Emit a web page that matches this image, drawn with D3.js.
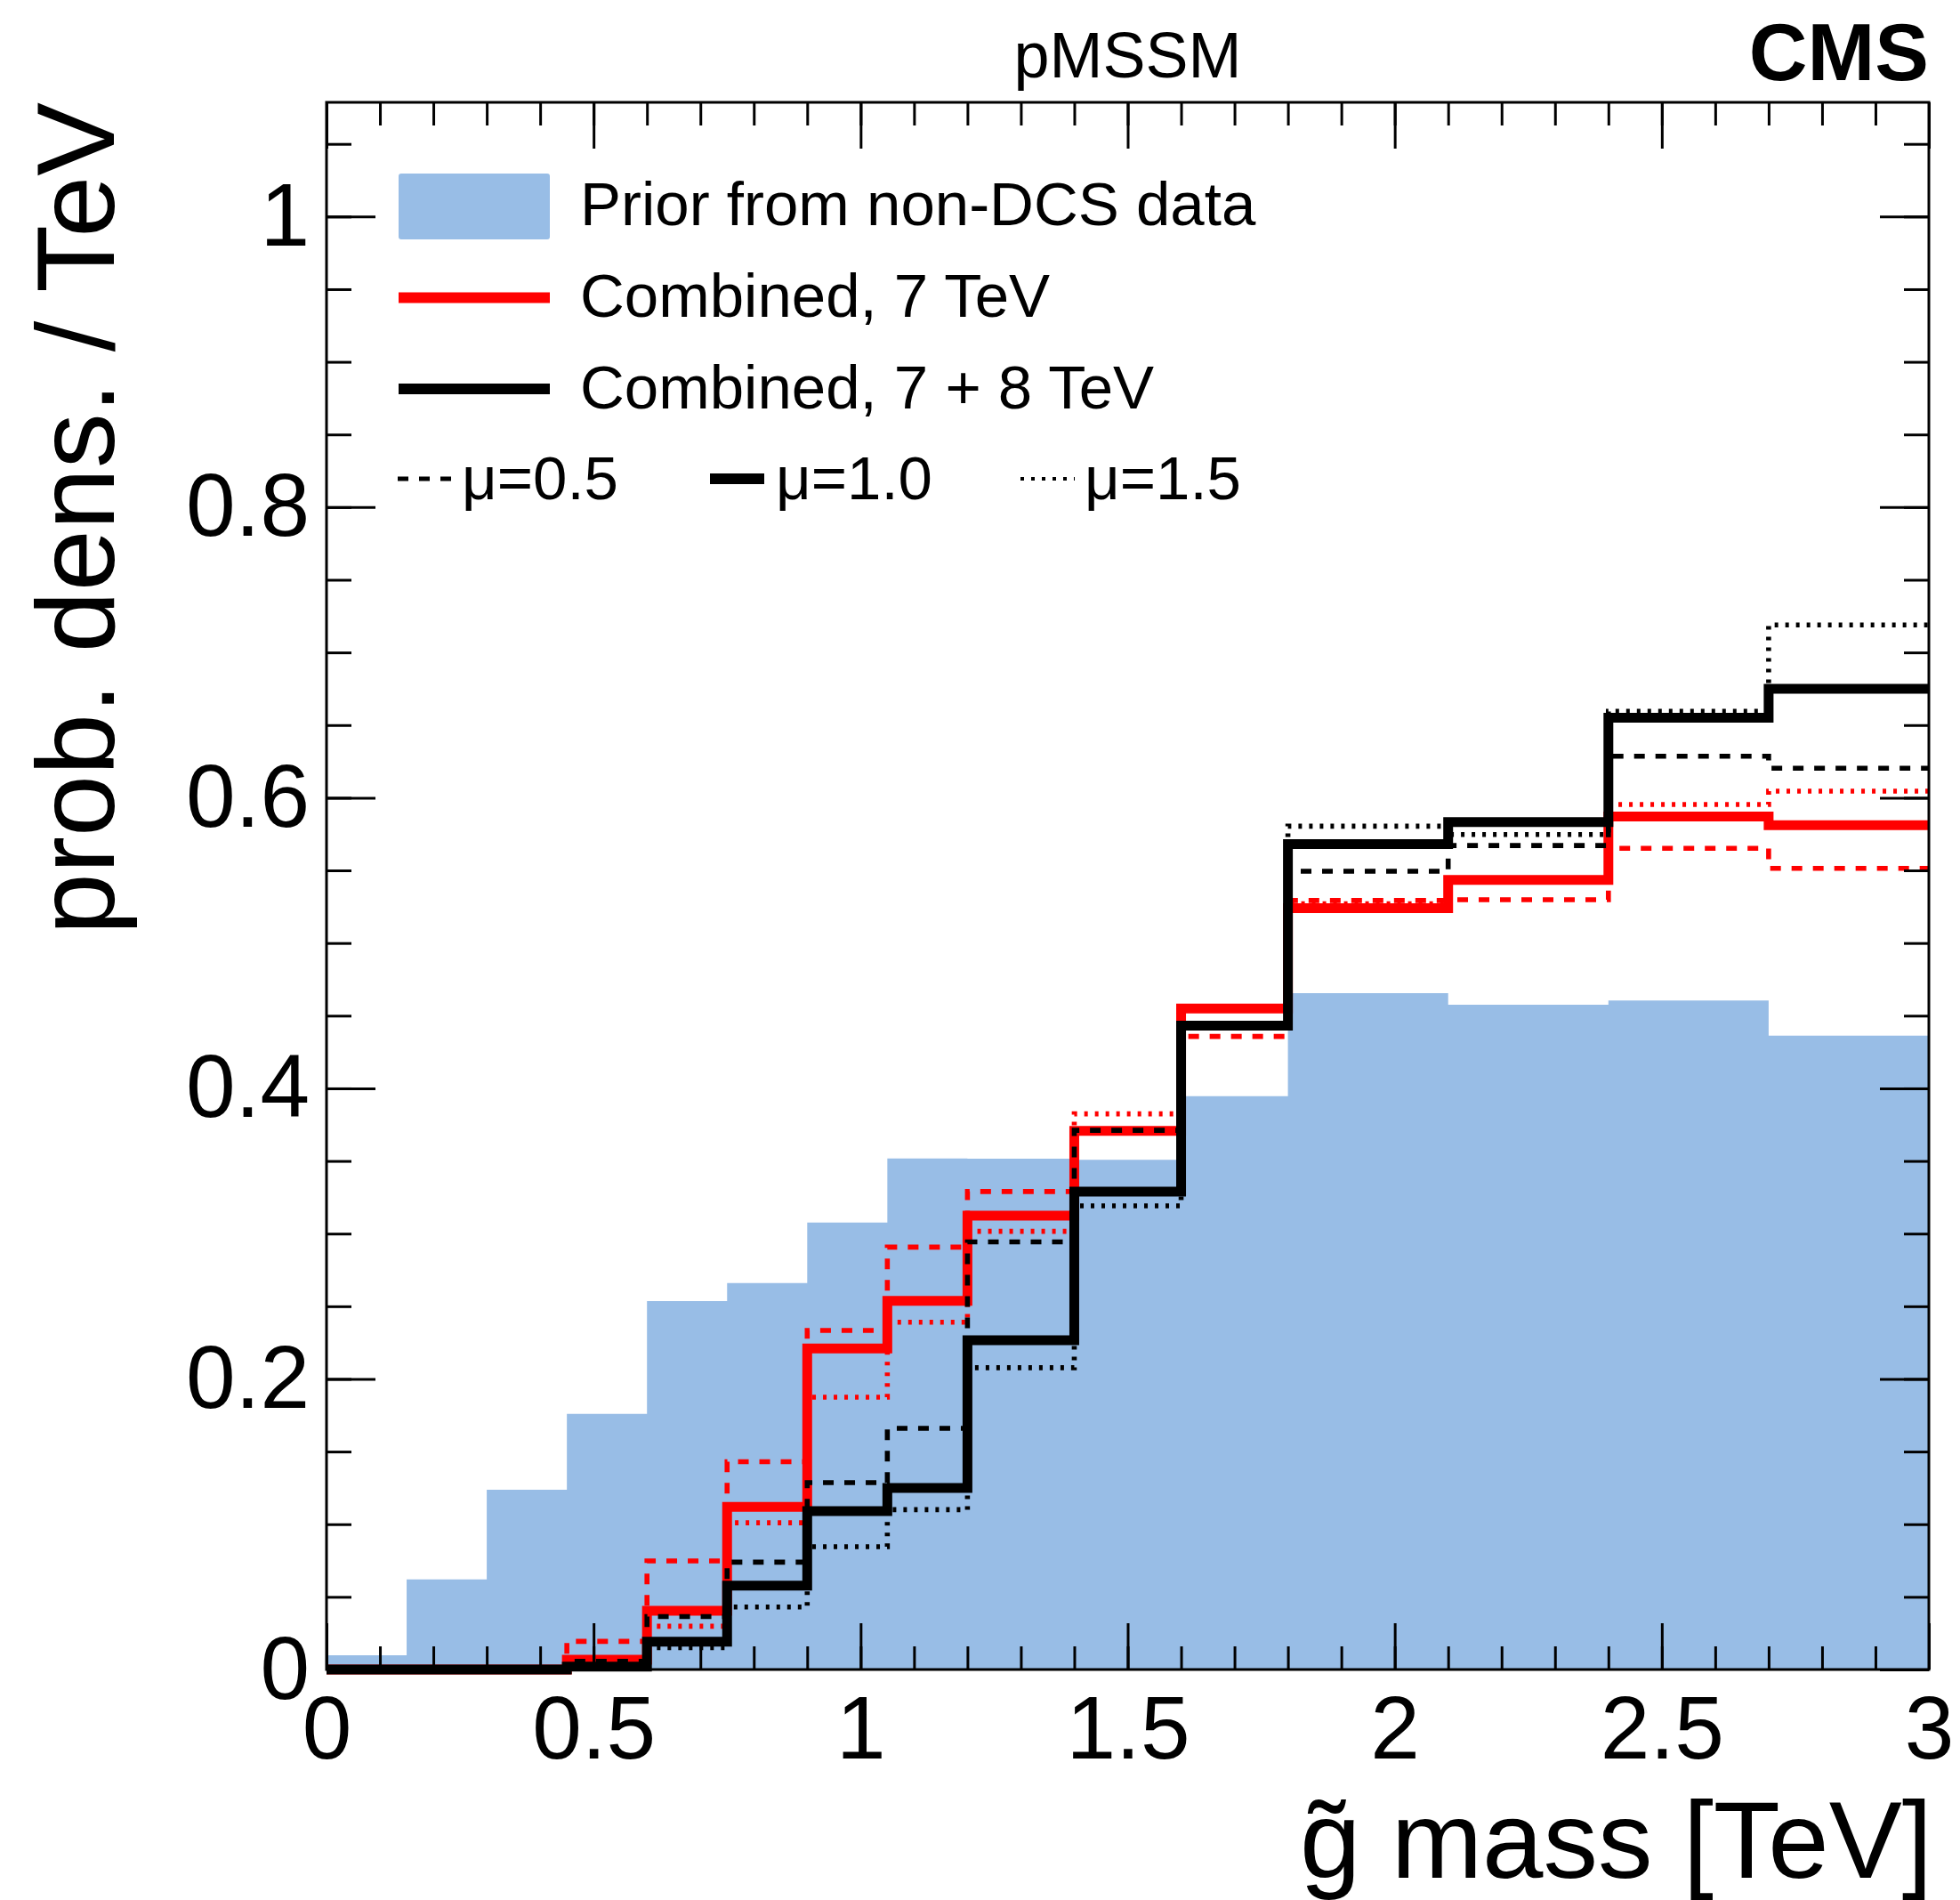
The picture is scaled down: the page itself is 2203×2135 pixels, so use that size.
<!DOCTYPE html>
<html>
<head>
<meta charset="utf-8">
<script src="https://cdn.jsdelivr.net/npm/d3@7"></script>
<style>
body { margin: 0; background: #fff; }
text { font-family: "Liberation Sans", Arial, Helvetica, sans-serif; }
</style>
</head>
<body>
<div id="chart"></div>
<script>
// bin edges of the gluino mass histogram [TeV]
const edges = [0, 0.15, 0.3, 0.45, 0.6, 0.75, 0.9, 1.05, 1.2, 1.4, 1.6, 1.8, 2.1, 2.4, 2.7, 3.0];

// prob. density per bin
const prior       = [0.0098, 0.062, 0.1237, 0.176, 0.2536, 0.266, 0.3077, 0.3517, 0.3515, 0.3508, 0.3946, 0.4655, 0.4575, 0.4604, 0.4363];
const comb7_mu10  = [0, 0, 0, 0.0067, 0.0404, 0.112, 0.221, 0.2538, 0.3124, 0.3707, 0.4549, 0.524, 0.5435, 0.587, 0.5811];
const comb7_mu05  = [0, 0, 0, 0.0194, 0.0747, 0.143, 0.2334, 0.2907, 0.329, 0.371, 0.4357, 0.5293, 0.5298, 0.5652, 0.5514];
const comb7_mu15  = [0, 0, 0, 0.003, 0.0298, 0.101, 0.1874, 0.239, 0.3016, 0.3824, 0.456, 0.527, 0.544, 0.5953, 0.6045];
const comb78_mu10 = [0, 0, 0, 0.002, 0.0192, 0.0578, 0.109, 0.125, 0.2266, 0.3289, 0.4431, 0.5681, 0.5833, 0.6551, 0.6749];
const comb78_mu05 = [0, 0, 0, 0.0056, 0.0364, 0.0739, 0.1286, 0.166, 0.2943, 0.3711, 0.443, 0.5494, 0.5671, 0.6286, 0.6203];
const comb78_mu15 = [0, 0, 0, 0.001, 0.0151, 0.043, 0.0845, 0.110, 0.2077, 0.3191, 0.444, 0.5804, 0.5747, 0.6594, 0.7189];

const xTicks = [0, 0.5, 1, 1.5, 2, 2.5, 3];
const yTicks = [0, 0.2, 0.4, 0.6, 0.8, 1];
const legendLabels = ['Prior from non-DCS data', 'Combined, 7 TeV', 'Combined, 7 + 8 TeV'];
const muLabels = ['\u03bc=0.5', '\u03bc=1.0', '\u03bc=1.5'];

const width = 2203, height = 2135;
const margin = {top: 115, right: 35, bottom: 259, left: 367};
const blue = '#98bde6';

const svg = d3.select('#chart').append('svg')
    .attr('width', width)
    .attr('height', height);

const x = d3.scaleLinear().domain([0, 3]).range([margin.left, width - margin.right]);
const y = d3.scaleLinear().domain([0, 1.0786]).range([height - margin.bottom, margin.top]);

function steps(vals) {
    const pts = [];
    vals.forEach((v, i) => {
        pts.push([edges[i], v]);
        pts.push([edges[i + 1], v]);
    });
    return pts;
}

// prior as filled histogram
svg.append('path')
    .datum(steps(prior))
    .attr('d', d3.area().x(d => x(d[0])).y0(y(0)).y1(d => y(d[1])))
    .style('fill', blue);

const line = d3.line().x(d => x(d[0])).y(d => y(d[1]));
const series = [
    {vals: comb7_mu10, color: '#ff0000', w: 11, dash: null},
    {vals: comb7_mu05, color: '#ff0000', w: 5.6, dash: '12,12'},
    {vals: comb7_mu15, color: '#ff0000', w: 5.6, dash: '4,8'},
    {vals: comb78_mu10, color: '#000', w: 11, dash: null},
    {vals: comb78_mu05, color: '#000', w: 5.6, dash: '12,12'},
    {vals: comb78_mu15, color: '#000', w: 5.6, dash: '4,8'}
];
series.forEach(s => {
    svg.append('path')
        .datum(steps(s.vals))
        .attr('d', line)
        .style('fill', 'none')
        .style('stroke', s.color)
        .style('stroke-width', s.w)
        .style('stroke-linejoin', 'miter')
        .style('stroke-dasharray', s.dash);
});

// axes: ROOT style ticks inside on all sides
const fmt = d3.format('~g');
const xMinor = d3.range(0, 3.0001, 0.1);
const yMinor = d3.range(0, 1.0786, 0.05);
const bottom = height - margin.bottom, right = width - margin.right;

function styleAxis(g) {
    g.select('.domain').remove();
    g.selectAll('line').style('stroke', '#000').style('stroke-width', 3);
    g.selectAll('text').style('font-size', '100px').style('fill', '#000');
}

svg.append('g').attr('transform', `translate(0,${bottom})`)
    .call(d3.axisBottom(x).tickValues(xMinor).tickSize(-26).tickFormat('')).call(styleAxis);
svg.append('g').attr('transform', `translate(0,${bottom})`)
    .call(d3.axisBottom(x).tickValues(xTicks).tickSize(-52).tickPadding(29).tickFormat(fmt)).call(styleAxis);
svg.append('g').attr('transform', `translate(0,${margin.top})`)
    .call(d3.axisTop(x).tickValues(xMinor).tickSize(-26).tickFormat('')).call(styleAxis);
svg.append('g').attr('transform', `translate(0,${margin.top})`)
    .call(d3.axisTop(x).tickValues(xTicks).tickSize(-52).tickFormat('')).call(styleAxis);

svg.append('g').attr('transform', `translate(${margin.left},0)`)
    .call(d3.axisLeft(y).tickValues(yMinor).tickSize(-28).tickFormat('')).call(styleAxis);
svg.append('g').attr('transform', `translate(${margin.left},0)`)
    .call(d3.axisLeft(y).tickValues(yTicks).tickSize(-55).tickPadding(19).tickFormat(fmt)).call(styleAxis);
svg.append('g').attr('transform', `translate(${right},0)`)
    .call(d3.axisRight(y).tickValues(yMinor).tickSize(-28).tickFormat('')).call(styleAxis);
svg.append('g').attr('transform', `translate(${right},0)`)
    .call(d3.axisRight(y).tickValues(yTicks).tickSize(-55).tickFormat('')).call(styleAxis);

svg.append('rect')
    .attr('x', margin.left).attr('y', margin.top)
    .attr('width', right - margin.left).attr('height', bottom - margin.top)
    .style('fill', 'none').style('stroke', '#000').style('stroke-width', 3);

// titles
svg.append('text')
    .attr('x', right + 4).attr('y', 2110)
    .style('text-anchor', 'end').style('font-size', '123px')
    .text('g\u0303 mass [TeV]');

svg.append('text')
    .attr('transform', `translate(128,${margin.top}) rotate(-90)`)
    .style('text-anchor', 'end').style('font-size', '124px')
    .text('prob. dens. / TeV');

svg.append('text')
    .attr('x', (margin.left + right) / 2).attr('y', 87)
    .style('text-anchor', 'middle').style('font-size', '72px')
    .text('pMSSM');

svg.append('text')
    .attr('x', right).attr('y', 90)
    .style('text-anchor', 'end').style('font-size', '91px').style('font-weight', 'bold')
    .text('CMS');

// legend
const legend = svg.append('g');
const rowY = [232, 334.5, 437];
legend.append('rect')
    .attr('x', 448).attr('y', 195).attr('width', 170).attr('height', 74)
    .attr('rx', 3)
    .style('fill', blue);
legend.append('line')
    .attr('x1', 448).attr('x2', 618).attr('y1', rowY[1]).attr('y2', rowY[1])
    .style('stroke', '#ff0000').style('stroke-width', 12);
legend.append('line')
    .attr('x1', 448).attr('x2', 618).attr('y1', rowY[2]).attr('y2', rowY[2])
    .style('stroke', '#000').style('stroke-width', 12);
legend.selectAll('.lab').data(legendLabels).enter().append('text')
    .attr('class', 'lab')
    .attr('x', 652)
    .attr('y', (d, i) => [253, 356, 459][i])
    .style('font-size', '69px')
    .text(d => d);

const muRow = 538;
const muItems = [
    {x1: 447, x2: 507, tx: 519, w: 5, dash: '12,12'},
    {x1: 798, x2: 859, tx: 872, w: 12, dash: null},
    {x1: 1147, x2: 1208, tx: 1219, w: 4, dash: '4,8'}
];
muItems.forEach((m, i) => {
    legend.append('line')
        .attr('x1', m.x1).attr('x2', m.x2).attr('y1', muRow).attr('y2', muRow)
        .style('stroke', '#000').style('stroke-width', m.w)
        .style('stroke-dasharray', m.dash);
    legend.append('text')
        .attr('x', m.tx).attr('y', 561)
        .style('font-size', '69px')
        .text(muLabels[i]);
});
</script>
</body>
</html>
